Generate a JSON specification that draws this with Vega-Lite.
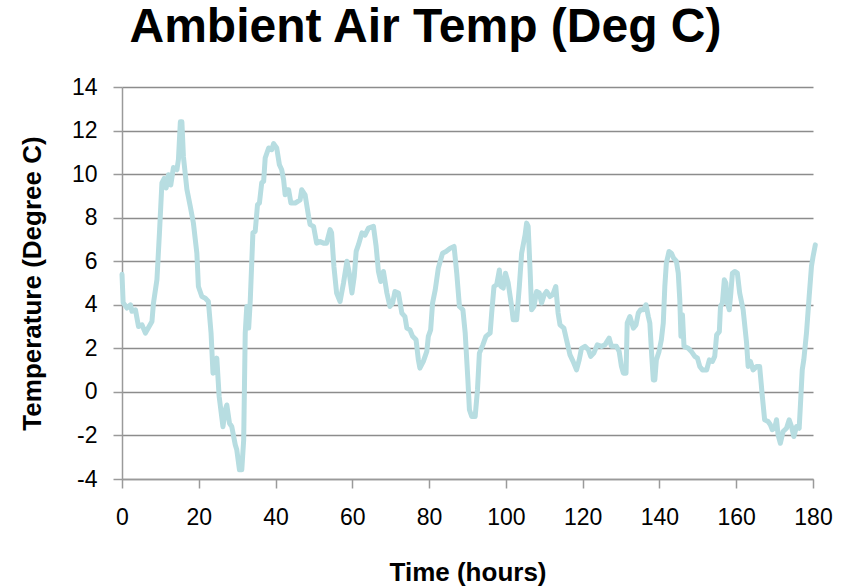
{
  "$schema": "https://vega.github.io/schema/vega-lite/v6.json",
  "width": 691,
  "height": 392,
  "autosize": {"type": "none"},
  "padding": {"left": 122, "top": 87, "right": 37, "bottom": 107},
  "background": "white",
  "config": {"font": "Liberation Sans", "view": {"stroke": null}},
  "title": {"text": "Ambient Air Temp (Deg C)", "fontSize": 48, "fontWeight": "bold", "font": "Liberation Sans", "color": "black", "anchor": "middle", "dx": -42, "offset": 24},
  "data": {"values": [
    {"h":0,"t":5.4},{"h":0.3,"t":4.1},{"h":1.3,"t":3.85},{"h":2.2,"t":4.0},{"h":2.6,"t":3.7},{"h":3.5,"t":3.77},{"h":4.3,"t":3.0},{"h":5.2,"t":3.08},{"h":6.1,"t":2.7},{"h":7.8,"t":3.23},{"h":8.2,"t":4.08},{"h":9.1,"t":5.15},{"h":9.8,"t":7.45},{"h":10.4,"t":9.6},{"h":11.0,"t":9.8},{"h":11.5,"t":9.36},{"h":12.1,"t":9.97},{"h":12.7,"t":9.5},{"h":13.4,"t":10.3},{"h":14.3,"t":10.2},{"h":14.7,"t":10.66},{"h":15.2,"t":12.4},{"h":15.6,"t":12.4},{"h":16.0,"t":10.8},{"h":16.9,"t":9.3},{"h":17.8,"t":8.5},{"h":18.6,"t":7.75},{"h":19.5,"t":6.37},{"h":19.9,"t":4.84},{"h":20.8,"t":4.38},{"h":21.7,"t":4.3},{"h":22.5,"t":4.15},{"h":23.2,"t":2.7},{"h":23.7,"t":0.86},{"h":24.3,"t":0.94},{"h":24.7,"t":1.55},{"h":25.3,"t":-0.2},{"h":26.3,"t":-1.6},{"h":26.9,"t":-0.82},{"h":27.3,"t":-0.6},{"h":28.0,"t":-1.44},{"h":28.6,"t":-1.6},{"h":29.5,"t":-2.43},{"h":29.9,"t":-2.66},{"h":30.6,"t":-3.58},{"h":31.2,"t":-3.58},{"h":31.7,"t":-2.2},{"h":32.1,"t":2.7},{"h":32.5,"t":3.92},{"h":33.0,"t":2.93},{"h":33.4,"t":4.15},{"h":34.1,"t":7.3},{"h":34.7,"t":7.37},{"h":35.3,"t":8.6},{"h":35.8,"t":8.67},{"h":36.4,"t":9.6},{"h":36.9,"t":9.67},{"h":37.3,"t":10.74},{"h":38.2,"t":11.2},{"h":39.0,"t":11.12},{"h":39.5,"t":11.4},{"h":40.3,"t":11.2},{"h":41.0,"t":10.43},{"h":41.6,"t":10.2},{"h":42.1,"t":9.74},{"h":42.5,"t":9.05},{"h":43.0,"t":9.28},{"h":43.4,"t":9.28},{"h":44.0,"t":8.67},{"h":45.1,"t":8.67},{"h":46.4,"t":8.82},{"h":46.8,"t":9.28},{"h":47.7,"t":9.05},{"h":48.6,"t":8.06},{"h":49.0,"t":7.68},{"h":49.9,"t":7.6},{"h":50.7,"t":6.83},{"h":51.6,"t":6.9},{"h":52.5,"t":6.83},{"h":53.3,"t":6.83},{"h":54.2,"t":7.45},{"h":54.6,"t":7.3},{"h":55.2,"t":5.76},{"h":55.9,"t":4.54},{"h":56.8,"t":4.15},{"h":57.7,"t":5.0},{"h":58.6,"t":6.0},{"h":59.2,"t":5.45},{"h":59.9,"t":4.54},{"h":60.5,"t":5.3},{"h":61.0,"t":6.45},{"h":61.6,"t":6.76},{"h":62.5,"t":7.3},{"h":63.3,"t":7.2},{"h":64.2,"t":7.52},{"h":65.5,"t":7.6},{"h":66.2,"t":6.68},{"h":66.8,"t":5.53},{"h":67.4,"t":5.07},{"h":68.1,"t":5.53},{"h":69.0,"t":4.54},{"h":69.8,"t":3.92},{"h":70.5,"t":4.08},{"h":71.1,"t":4.61},{"h":72.0,"t":4.54},{"h":72.9,"t":3.62},{"h":73.7,"t":3.46},{"h":74.2,"t":2.93},{"h":75.0,"t":2.85},{"h":75.7,"t":2.55},{"h":76.6,"t":2.39},{"h":77.2,"t":1.47},{"h":77.6,"t":1.09},{"h":78.5,"t":1.4},{"h":79.4,"t":1.86},{"h":79.8,"t":2.55},{"h":80.4,"t":2.85},{"h":80.9,"t":4.08},{"h":81.6,"t":4.69},{"h":82.4,"t":5.68},{"h":83.5,"t":6.37},{"h":84.4,"t":6.45},{"h":85.5,"t":6.6},{"h":86.5,"t":6.68},{"h":87.2,"t":5.45},{"h":87.9,"t":3.92},{"h":88.8,"t":3.77},{"h":89.4,"t":2.7},{"h":90.1,"t":0.55},{"h":90.5,"t":-0.82},{"h":91.1,"t":-1.13},{"h":92.0,"t":-1.13},{"h":92.6,"t":0.1},{"h":93.1,"t":1.78},{"h":94.0,"t":2.16},{"h":94.8,"t":2.55},{"h":95.9,"t":2.7},{"h":96.3,"t":3.62},{"h":96.9,"t":4.84},{"h":97.6,"t":4.92},{"h":98.3,"t":5.6},{"h":98.7,"t":4.84},{"h":99.3,"t":4.77},{"h":99.9,"t":5.45},{"h":100.6,"t":5.0},{"h":101.5,"t":3.92},{"h":101.9,"t":3.31},{"h":102.8,"t":3.31},{"h":103.5,"t":4.84},{"h":104.1,"t":6.37},{"h":105.0,"t":7.2},{"h":105.4,"t":7.75},{"h":105.8,"t":7.6},{"h":106.3,"t":5.6},{"h":106.7,"t":3.77},{"h":107.3,"t":3.92},{"h":108.0,"t":4.61},{"h":108.7,"t":4.54},{"h":109.3,"t":4.08},{"h":110.0,"t":4.46},{"h":110.6,"t":4.61},{"h":111.5,"t":4.38},{"h":112.2,"t":4.46},{"h":113.0,"t":4.84},{"h":113.6,"t":3.62},{"h":114.1,"t":3.08},{"h":115.1,"t":2.93},{"h":115.8,"t":2.39},{"h":116.7,"t":1.7},{"h":117.5,"t":1.4},{"h":118.4,"t":1.01},{"h":119.1,"t":1.47},{"h":119.7,"t":2.0},{"h":120.6,"t":2.09},{"h":121.5,"t":1.93},{"h":122.1,"t":1.63},{"h":122.9,"t":1.78},{"h":123.8,"t":2.16},{"h":124.9,"t":2.09},{"h":125.8,"t":2.16},{"h":126.9,"t":2.47},{"h":127.5,"t":2.09},{"h":128.8,"t":2.09},{"h":129.5,"t":1.86},{"h":130.1,"t":1.17},{"h":130.6,"t":0.86},{"h":131.3,"t":0.86},{"h":131.6,"t":3.16},{"h":132.3,"t":3.46},{"h":133.2,"t":2.93},{"h":133.9,"t":3.08},{"h":134.5,"t":3.62},{"h":135.1,"t":3.77},{"h":135.8,"t":3.77},{"h":136.5,"t":4.0},{"h":137.1,"t":3.46},{"h":137.5,"t":3.16},{"h":138.0,"t":1.63},{"h":138.4,"t":0.55},{"h":138.8,"t":0.55},{"h":139.2,"t":1.47},{"h":139.9,"t":1.86},{"h":140.5,"t":2.39},{"h":141.0,"t":3.16},{"h":141.4,"t":4.84},{"h":141.8,"t":5.91},{"h":142.5,"t":6.45},{"h":143.1,"t":6.37},{"h":143.7,"t":6.14},{"h":144.4,"t":6.0},{"h":144.9,"t":5.45},{"h":145.3,"t":4.23},{"h":145.6,"t":2.55},{"h":146.0,"t":3.54},{"h":146.4,"t":2.09},{"h":147.5,"t":2.0},{"h":148.3,"t":1.86},{"h":149.2,"t":1.63},{"h":149.9,"t":1.55},{"h":150.5,"t":1.17},{"h":151.2,"t":1.01},{"h":152.3,"t":1.01},{"h":153.0,"t":1.47},{"h":153.8,"t":1.4},{"h":154.4,"t":1.63},{"h":154.9,"t":2.62},{"h":155.6,"t":2.77},{"h":155.9,"t":3.92},{"h":156.4,"t":4.08},{"h":156.9,"t":5.15},{"h":157.3,"t":5.0},{"h":157.6,"t":4.15},{"h":158.2,"t":3.77},{"h":158.6,"t":4.54},{"h":159.0,"t":5.45},{"h":159.6,"t":5.53},{"h":160.3,"t":5.45},{"h":160.9,"t":4.54},{"h":161.8,"t":3.77},{"h":162.7,"t":2.24},{"h":163.1,"t":1.17},{"h":163.7,"t":1.4},{"h":164.4,"t":1.01},{"h":165.3,"t":1.17},{"h":166.1,"t":1.17},{"h":166.8,"t":-0.2},{"h":167.4,"t":-1.28},{"h":168.3,"t":-1.36},{"h":168.9,"t":-1.51},{"h":169.4,"t":-1.74},{"h":170.0,"t":-1.67},{"h":170.5,"t":-1.28},{"h":170.9,"t":-1.97},{"h":171.5,"t":-2.36},{"h":172.2,"t":-1.82},{"h":173.1,"t":-1.67},{"h":173.8,"t":-1.28},{"h":174.4,"t":-1.59},{"h":175.0,"t":-2.05},{"h":175.7,"t":-1.59},{"h":176.4,"t":-1.67},{"h":176.8,"t":-0.36},{"h":177.2,"t":1.01},{"h":177.6,"t":1.47},{"h":178.3,"t":2.7},{"h":179.0,"t":4.38},{"h":179.6,"t":5.76},{"h":180.0,"t":6.2},{"h":180.6,"t":6.75}
  ]},
  "mark": {"type": "line", "color": "#b7dde1", "strokeWidth": 5, "strokeJoin": "round", "strokeCap": "round", "clip": false},
  "encoding": {
    "x": {"field": "h", "type": "quantitative", "scale": {"domain": [0, 180], "nice": false, "zero": false},
      "axis": {"title": "Time (hours)", "values": [0,20,40,60,80,100,120,140,160,180], "grid": false, "labelFlush": false, "labelOverlap": false,
        "domainColor": "#9a9a9a", "domainWidth": 1.5, "tickColor": "#9a9a9a", "tickWidth": 1.5, "tickSize": 9,
        "labelFontSize": 23, "labelColor": "black", "labelPadding": 18, "labelFont": "Liberation Sans",
        "titleFontSize": 26, "titleFontWeight": "bold", "titleColor": "black", "titlePadding": 30, "titleFont": "Liberation Sans"}},
    "y": {"field": "t", "type": "quantitative", "scale": {"domain": [-4, 14], "nice": false, "zero": false},
      "axis": {"title": "Temperature (Degree C)", "values": [-4,-2,0,2,4,6,8,10,12,14], "grid": true, "labelFlush": false, "labelOverlap": false,
        "labelExpr": "'' + datum.value",
        "gridColor": "#8c8c8c", "gridWidth": 1.5,
        "domainColor": "#9a9a9a", "domainWidth": 1.5, "tickColor": "#9a9a9a", "tickWidth": 1.5, "tickSize": 9,
        "labelFontSize": 23, "labelColor": "black", "labelPadding": 16, "labelFont": "Liberation Sans",
        "titleFontSize": 26, "titleFontWeight": "bold", "titleColor": "black", "titlePadding": 26, "titleFont": "Liberation Sans"}}
  }
}
